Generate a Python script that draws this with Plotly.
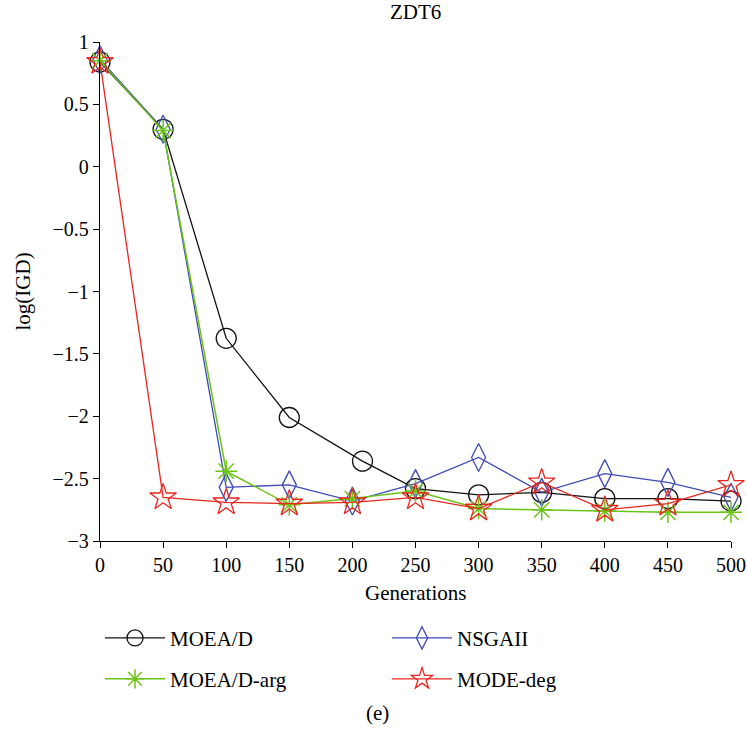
import plotly.graph_objects as go

gens = [0, 50, 100, 150, 200, 250, 300, 350, 400, 450, 500]
gens_moead = [0, 50, 100, 150, 208, 250, 300, 350, 400, 450, 500]

moead = [0.84, 0.30, -1.375, -2.01, -2.36, -2.58, -2.63, -2.61, -2.66, -2.66, -2.68]
moead_arg = [0.85, 0.29, -2.44, -2.71, -2.66, -2.60, -2.74, -2.75, -2.76, -2.77, -2.77]
nsgaii = [0.86, 0.30, -2.57, -2.55, -2.68, -2.54, -2.33, -2.61, -2.46, -2.53, -2.65]
mode_deg = [0.84, -2.65, -2.69, -2.70, -2.69, -2.65, -2.74, -2.53, -2.75, -2.70, -2.55]

x_ticks = [0, 50, 100, 150, 200, 250, 300, 350, 400, 450, 500]
y_ticks = [1, 0.5, 0, -0.5, -1, -1.5, -2, -2.5, -3]
y_ticklabels = ["1", "0.5", "0", "\u22120.5", "\u22121", "\u22121.5", "\u22122", "\u22122.5", "\u22123"]

FONT = "Liberation Serif"
BLACK = "#111111"
GREEN = "#6cc417"
BLUE = "#3f4bb5"
RED = "#e8261e"

fig = go.Figure()
fig.add_trace(go.Scatter(x=gens_moead, y=moead, name="MOEA/D", mode="lines+markers",
                         line=dict(color=BLACK, width=1.3), cliponaxis=False,
                         marker=dict(symbol="circle-open", size=20, color=BLACK, line=dict(width=1.3)),
                         legend="legend", legendrank=1))
fig.add_trace(go.Scatter(x=gens, y=nsgaii, name="NSGAII", mode="lines+markers",
                         line=dict(color=BLUE, width=1.3), cliponaxis=False,
                         marker=dict(symbol="diamond-tall-open", size=20, color=BLUE, line=dict(width=1.3)),
                         legend="legend", legendrank=2))
fig.add_trace(go.Scatter(x=gens, y=moead_arg, name="MOEA/D-arg", mode="lines+markers",
                         line=dict(color=GREEN, width=1.5), cliponaxis=False,
                         marker=dict(symbol="asterisk-open", size=18, color=GREEN, line=dict(width=1.5, color=GREEN)),
                         legend="legend2", legendrank=1))
fig.add_trace(go.Scatter(x=gens, y=mode_deg, name="MODE-deg", mode="lines+markers",
                         line=dict(color=RED, width=1.3), cliponaxis=False,
                         marker=dict(symbol="star-open", size=20, color=RED, line=dict(width=1.3)),
                         legend="legend2", legendrank=2))

axis_common = dict(showline=True, linecolor="black", linewidth=1.3, ticks="outside",
                   ticklen=6, tickwidth=1.3, tickcolor="black", showgrid=False, zeroline=False,
                   tickfont=dict(family=FONT, size=20, color="black"), mirror=False, automargin=False)

fig.update_xaxes(range=[0, 500], tickvals=x_ticks, **axis_common)
fig.update_yaxes(range=[-3, 1], tickvals=y_ticks, ticktext=y_ticklabels, **axis_common)

legend_common = dict(orientation="h", xanchor="left", yanchor="middle", entrywidth=212,
                     entrywidthmode="pixels", font=dict(family=FONT, size=21, color="black"),
                     bgcolor="rgba(0,0,0,0)", itemwidth=60)

fig.update_layout(
    width=747, height=731,
    margin=dict(l=100, r=16, t=42, b=190, autoexpand=False),
    paper_bgcolor="white", plot_bgcolor="white",
    showlegend=True,
    legend=dict(x=0.0, y=-0.195, **legend_common),
    legend2=dict(x=0.0, y=-0.277, **legend_common),
    font=dict(family=FONT, color="black"),
    annotations=[
        dict(text="ZDT6", x=0.5, y=(540.7 - 12) / 499, xref="paper", yref="paper",
             showarrow=False, font=dict(family=FONT, size=21), xanchor="center", yanchor="middle"),
        dict(text="Generations", x=0.5, y=(540.7 - 593) / 499, xref="paper", yref="paper",
             showarrow=False, font=dict(family=FONT, size=21), xanchor="center", yanchor="middle"),
        dict(text="log(IGD)", x=(22 - 100) / 631, y=0.5, xref="paper", yref="paper",
             showarrow=False, font=dict(family=FONT, size=21), textangle=-90,
             xanchor="center", yanchor="middle"),
        dict(text="(e)", x=(377 - 100) / 631, y=(540.7 - 713) / 499, xref="paper", yref="paper",
             showarrow=False, font=dict(family=FONT, size=21), xanchor="center", yanchor="middle"),
    ],
)

fig.write_html("out.html")
